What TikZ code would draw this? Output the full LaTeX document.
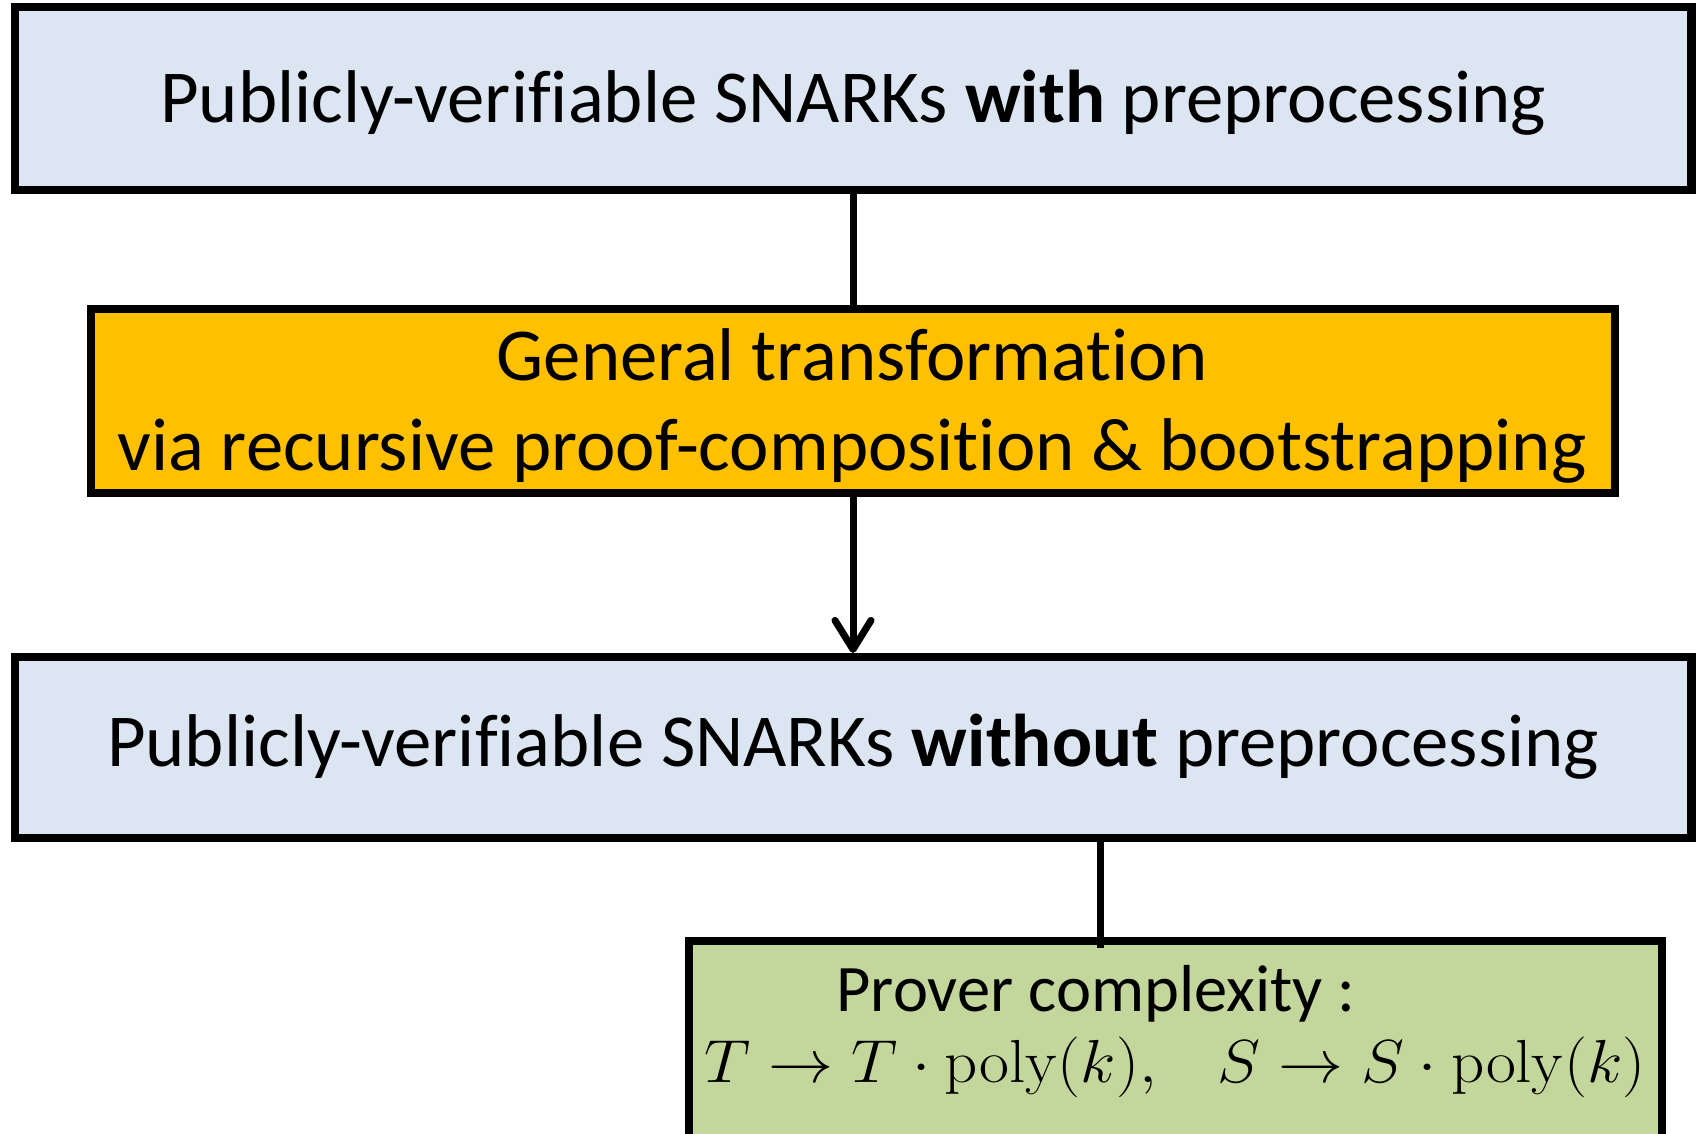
\documentclass[tikz,border=0pt]{standalone}
\usepackage[no-math]{fontspec}
\setmainfont{Carlito}[Ligatures=NoCommon]
\usetikzlibrary{arrows.meta,calc}

\definecolor{boxblue}{HTML}{DCE6F2}
\definecolor{boxorange}{HTML}{FFC000}
\definecolor{boxgreen}{HTML}{C3D69B}

\tikzset{
  panel/.style={draw=black, line width=0.08cm, rectangle, inner sep=0pt},
  bluebox/.style={panel, fill=boxblue},
  orangebox/.style={panel, fill=boxorange},
  greenbox/.style={panel, fill=boxgreen},
  bigtext/.style={anchor=base, inner sep=0pt, font=\fontsize{21.25}{25}\selectfont},
  smalltext/.style={anchor=base, inner sep=0pt, text depth=0pt, font=\fontsize{18.9}{22}\selectfont},
  mathtext/.style={anchor=base, inner sep=0pt, font=\fontsize{17.5}{21}\selectfont},
  link/.style={draw=black, line width=0.07cm},
  arrowlink/.style={link, -{Straight Barb[length=0.29cm, width=0.36cm, round]}},
}

\begin{document}
\begin{tikzpicture}[x=0.01cm, y=-0.01cm]
  \useasboundingbox (0,0) rectangle (1696,1134);
  \clip (0,0) rectangle (1696,1134);

  % boxes
  \node[bluebox, minimum width=16.76cm, minimum height=1.83cm] (top) at (853,98.5) {};
  \node[orangebox, minimum width=15.24cm, minimum height=1.84cm] (mid) at (853,401) {};
  \node[bluebox, minimum width=16.76cm, minimum height=1.81cm] (low) at (853,747.5) {};
  \node[greenbox, minimum width=9.73cm, minimum height=2.59cm] (cost) at (1175.5,1070.5) {};

  % labels
  \node[bigtext] (toplbl) at (853,123) {Publicly-verifiable SNARKs \textbf{with} preprocessing};
  \node[bigtext] (midlblA) at (852,381) {General transformation};
  \node[bigtext] (midlblB) at (852,471) {via recursive proof-composition \& bootstrapping};
  \node[bigtext] (lowlbl) at (853,767) {Publicly-verifiable SNARKs \textbf{without} preprocessing};
  \node[smalltext] (costlblA) at (1096,1012) {Prover complexity :};
  \node[mathtext] (costlblB) at (1175,1083) {\scalebox{1.07}[1]{$T \rightarrow T\cdot \mathrm{poly}(k),\hspace{0.75em}S \rightarrow S\cdot \mathrm{poly}(k)$}};

  % connectors
  \draw[link] (top.south) -- (mid.north);
  \draw[arrowlink] (mid.south) -- (low.north);
  \coordinate (gjoin) at ($(cost.north west)!0.4234!(cost.north east)$);
  \draw[link] (low.south -| gjoin) -- ([yshift=-0.11cm]gjoin);
\end{tikzpicture}
\end{document}
